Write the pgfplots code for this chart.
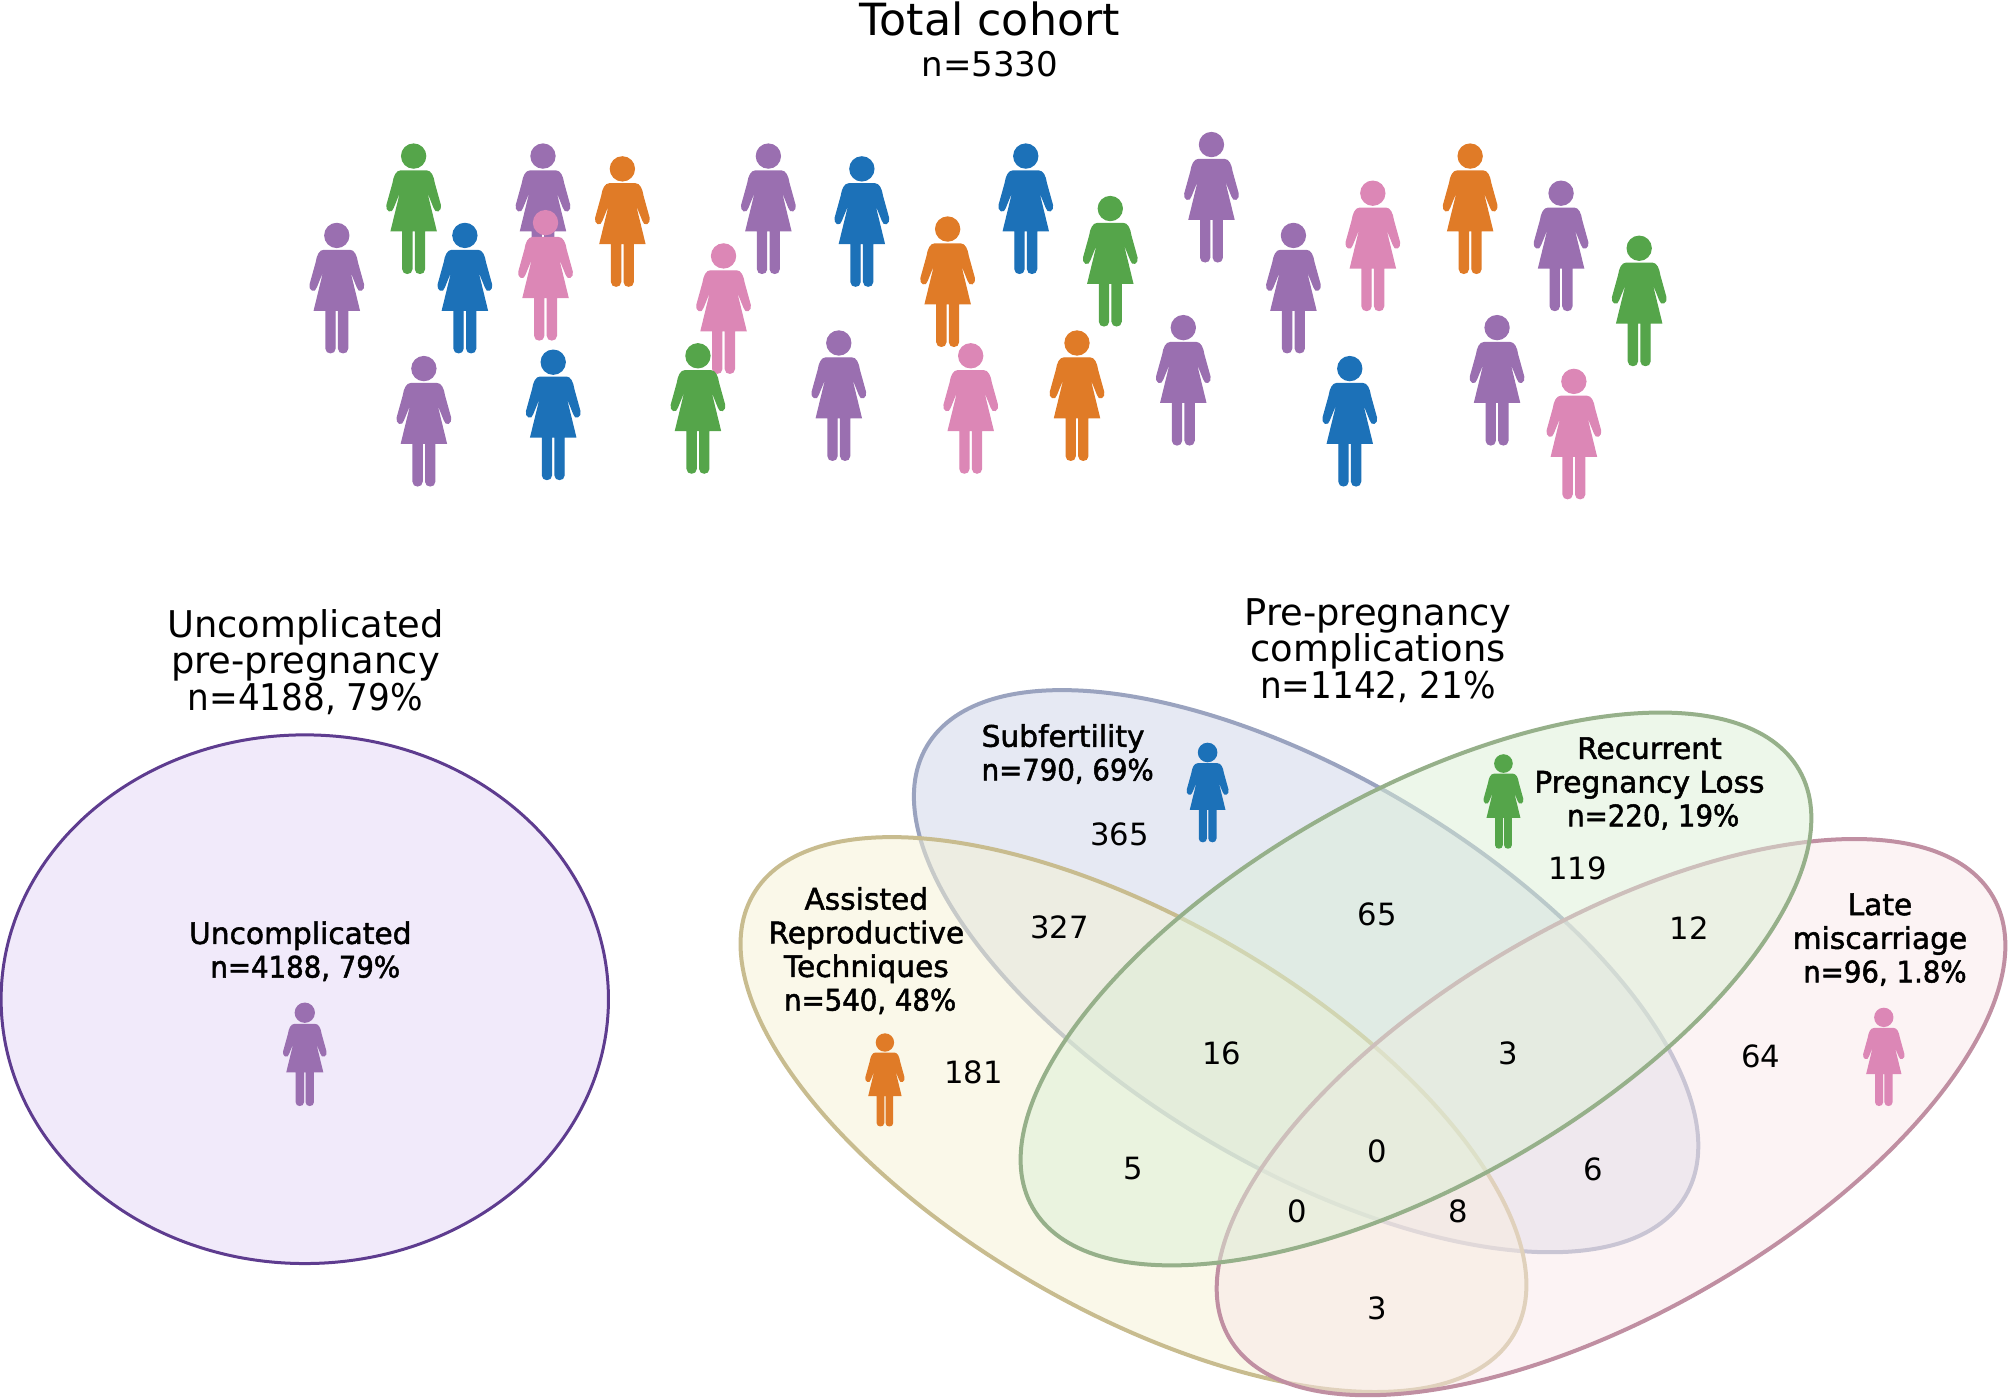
\documentclass[border=0pt]{standalone}
\usepackage{fontspec}
\setmainfont{DejaVu Sans}
\newfontfamily\lab[FakeBold=1.7]{DejaVu Sans}
\newfontfamily\labn[FakeBold=1.7,FakeStretch=.93]{DejaVu Sans}
\newfontfamily\headn[FakeStretch=.93]{DejaVu Sans}
\usepackage{pgfplots}
\pgfplotsset{compat=1.18}

\definecolor{cP}{HTML}{9A6FB0}
\definecolor{cG}{HTML}{55A54A}
\definecolor{cB}{HTML}{1C71B8}
\definecolor{cO}{HTML}{E07B27}
\definecolor{cK}{HTML}{DC87B6}

\newcommand{\hdfont}{\fontsize{11.05}{10.95}\selectfont}
\newcommand{\lbfont}{\fontsize{8.9}{10.1}\selectfont\lab}

% person is about 129 px tall in the 2008 px picture, origin at mid height
\pgfdeclareplotmark{woman}{
  \fill[fill=.,x=.3pt,y=-.3pt] (0,-52.6) circle [radius=12]
    (0,-37.6) -- (13,-37.6) .. controls (17,-37.6) and (19.5,-32.6) .. (20.5,-25.6)
    -- (26.6,-3.6) .. controls (27.8,1.9) and (22,4.9) .. (20.5,-1.1)
    -- (11,-24.6) -- (22.4,22.1) -- (10.8,22.1) -- (10.8,60.4)
    .. controls (10.8,66.1) and (1.8,66.1) .. (1.8,60.4) -- (1.8,22.1)
    -- (-1.8,22.1) -- (-1.8,60.4)
    .. controls (-1.8,66.1) and (-10.8,66.1) .. (-10.8,60.4) -- (-10.8,22.1)
    -- (-22.4,22.1) -- (-11,-24.6) -- (-20.5,-1.1)
    .. controls (-22,4.9) and (-27.8,1.9) .. (-26.6,-3.6) -- (-20.5,-25.6)
    .. controls (-19.5,-32.6) and (-17,-37.6) .. (-13,-37.6) -- cycle;
}

\begin{document}
\begin{tikzpicture}
\begin{axis}[
  scale only axis, width=602.4pt, height=419.4pt,
  xmin=0, xmax=1568, ymin=0, ymax=1092, y dir=reverse,
  hide axis,
]
% big circle on the left
\path[fill={rgb,255:red,241;green,234;blue,250},draw={rgb,255:red,94;green,60;blue,143},line width=.9pt]
  (axis cs:238,780.5) ellipse [x radius=91.1pt,y radius=79.3pt];

% venn, later fills go over the earlier outlines
\path[fill={rgb,255:red,205;green,211;blue,231},fill opacity=.5,draw={rgb,255:red,154;green,163;blue,191},line width=1.2pt,rotate around={-30.7:(axis cs:1019.9,758.6)}]
  (axis cs:1019.9,758.6) ellipse [x radius=132.3pt,y radius=58.7pt];
\path[fill={rgb,255:red,245;green,241;blue,211},fill opacity=.5,draw={rgb,255:red,200;green,188;blue,143},line width=1.2pt,rotate around={-30:(axis cs:885.1,870.6)}]
  (axis cs:885.1,870.6) ellipse [x radius=131.8pt,y radius=58.7pt];
\path[fill={rgb,255:red,249;green,231;blue,233},fill opacity=.5,draw={rgb,255:red,192;green,143;blue,162},line width=1.2pt,rotate around={30:(axis cs:1258,872.6)}]
  (axis cs:1258,872.6) ellipse [x radius=132.3pt,y radius=58.7pt];
\path[fill={rgb,255:red,219;green,239;blue,213},fill opacity=.5,draw={rgb,255:red,150;green,176;blue,138},line width=1.2pt,rotate around={29.7:(axis cs:1105.7,772.5)}]
  (axis cs:1105.7,772.5) ellipse [x radius=132.4pt,y radius=58.4pt];

% crowd
\addplot[only marks,color=cP,mark=woman] coordinates {(263,225) (424,163)};
\addplot[only marks,color=cG,mark=woman] coordinates {(323,163)};
\addplot[only marks,color=cB,mark=woman] coordinates {(363,225)};
\addplot[only marks,color=cK,mark=woman] coordinates {(426,215)};
\addplot[only marks,color=cO,mark=woman] coordinates {(486,173) (740,220) (841,309) (1148,163)};
\addplot[only marks,color=cK,mark=woman] coordinates {(565,241) (758,319) (1072,192) (1229,339)};
\addplot[only marks,color=cG,mark=woman] coordinates {(545,319) (867,204) (1280,235)};
\addplot[only marks,color=cP,mark=woman] coordinates {(600,163) (331,329) (655,309) (924,297) (946,154) (1010,225) (1169,297) (1219,192)};
\addplot[only marks,color=cB,mark=woman] coordinates {(673,173) (801,163) (432,324) (1054,329)};

% small ones in the sets
\addplot[only marks,color=cP,mark=woman,mark options={scale=.79}] coordinates {(238,823.5)};
\addplot[only marks,color=cB,mark=woman,mark options={scale=.76}] coordinates {(943,619)};
\addplot[only marks,color=cO,mark=woman,mark options={scale=.71}] coordinates {(691,843.5)};
\addplot[only marks,color=cG,mark=woman,mark options={scale=.72}] coordinates {(1174,626)};
\addplot[only marks,color=cK,mark=woman,mark options={scale=.75}] coordinates {(1471,825.5)};

% headings
\node[font=\fontsize{13.3}{13}\selectfont] at (axis cs:773,15) {Total cohort};
\node[font=\fontsize{10.2}{10}\selectfont] at (axis cs:773,50) {n=5330};
\node[font=\hdfont,align=center] at (axis cs:238.5,517) {Uncomplicated\\pre-pregnancy\\\headn n=4188, 79\%};
\node[font=\hdfont,align=center] at (axis cs:1076,508) {Pre-pregnancy\\complications\\\headn n=1142, 21\%};

% set labels, the n= lines sit a little right of centre
\node[font=\lbfont,align=center] at (axis cs:234.5,743) {Uncomplicated\\\hspace*{3pt}\labn n=4188, 79\%};
\node[font=\lbfont,align=left,anchor=west,inner sep=0pt] at (axis cs:766,589) {Subfertility\\\labn n=790, 69\%};
\node[font=\lbfont,align=center] at (axis cs:1288,612) {Recurrent\\Pregnancy Loss\\\hspace*{2.3pt}\labn n=220, 19\%};
\node[font=\lbfont,align=center] at (axis cs:676.5,742.5) {Assisted\\Reproductive\\Techniques\\\hspace*{2.3pt}\labn n=540, 48\%};
\node[font=\lbfont,align=center] at (axis cs:1468,734) {Late\\miscarriage\\\hspace*{3pt}\labn n=96, 1.8\%};

% counts
\tikzset{cnt/.style={font=\fontsize{9.2}{9.2}\selectfont}}
\node[cnt] at (axis cs:874,652) {365};
\node[cnt] at (axis cs:760,838) {181};
\node[cnt] at (axis cs:827.5,724) {327};
\node[cnt] at (axis cs:1075.5,714) {65};
\node[cnt] at (axis cs:1232,678) {119};
\node[cnt] at (axis cs:1319,725) {12};
\node[cnt] at (axis cs:954,823) {16};
\node[cnt] at (axis cs:1178,823) {3};
\node[cnt] at (axis cs:1375,825) {64};
\node[cnt] at (axis cs:885,913) {5};
\node[cnt] at (axis cs:1075.5,899) {0};
\node[cnt] at (axis cs:1244,913) {6};
\node[cnt] at (axis cs:1013,946) {0};
\node[cnt] at (axis cs:1139,946) {8};
\node[cnt] at (axis cs:1075.5,1022) {3};
\end{axis}
\end{tikzpicture}
\end{document}
